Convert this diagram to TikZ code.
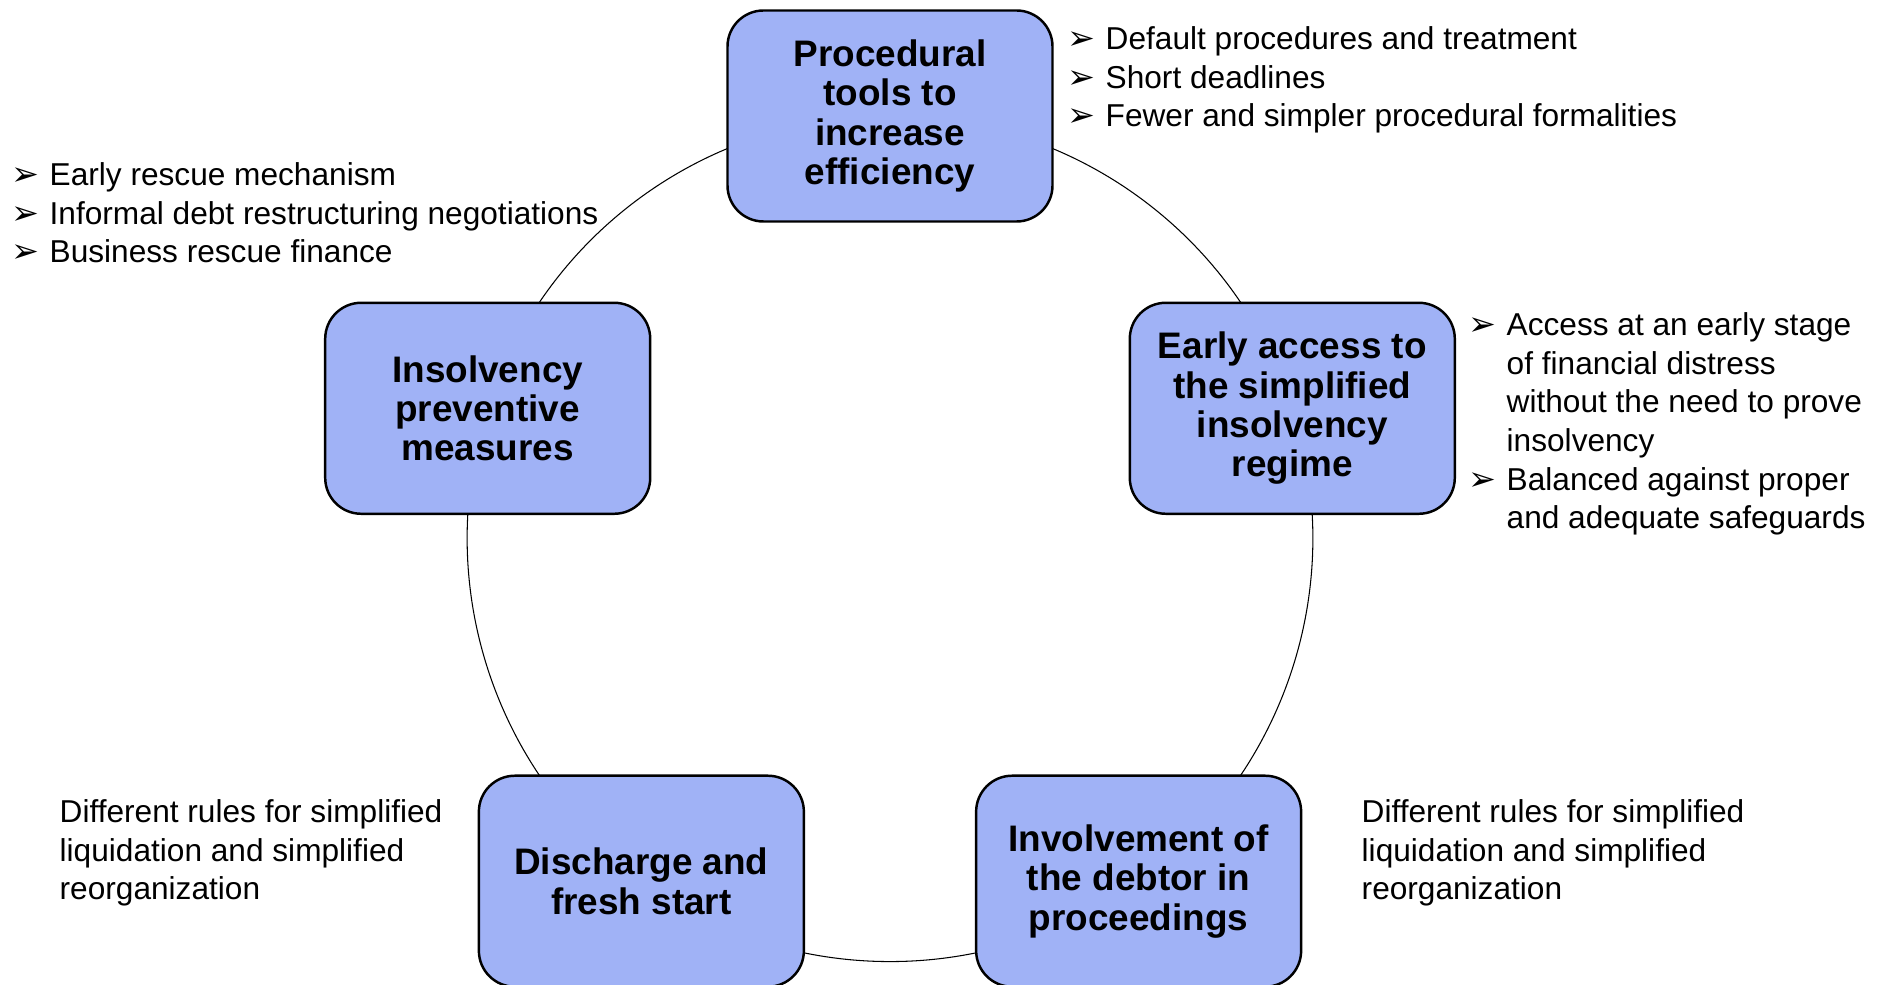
\documentclass[tikz,border=0pt]{standalone}
\usepackage{fontspec}
\setmainfont{Liberation Sans}
\newfontfamily\dingfont{DejaVu Sans}
\usetikzlibrary{backgrounds}

\definecolor{stagefill}{RGB}{160,178,246}
\newcommand{\bul}{\makebox[0.35cm][l]{\hspace*{-0.03cm}\dingfont\fontsize{9.5}{9.5}\selectfont ➢}}
\newcommand{\ind}{\hspace*{0.35cm}}

\tikzset{
  stage/.style={draw=black, line width=0.7pt, fill=stagefill,
    rounded corners=0.36cm, minimum width=3.25cm, minimum height=2.11cm,
    align=center, inner sep=0pt,
    font=\bfseries\fontsize{10.5}{11.2}\selectfont},
  note/.style={anchor=north west, align=left, inner sep=0pt,
    font=\fontsize{9}{11}\selectfont},
  ring/.style={draw=black, line width=0.3pt}
}

\begin{document}
\begin{tikzpicture}
  \useasboundingbox (0,0) rectangle (18.79,9.84);

  % the five stages round the ring
  \begin{scope}[shift={(8.90,4.45)}]
    \node[stage] (tools)     at (90:4.23)  {Procedural\\tools to\\increase\\efficiency};
    \node[stage] (access)    at (18:4.23)  {Early access to\\the simplified\\insolvency\\regime};
    \node[stage] (debtor)    at (-54:4.23) {Involvement of\\the debtor in\\proceedings};
    \node[stage] (discharge) at (234:4.23) {Discharge and\\fresh start};
    \node[stage] (prevent)   at (162:4.23) {Insolvency\\preventive\\measures};
  \end{scope}

  \begin{scope}[on background layer]
    \draw[ring, bend left=36, looseness=0.94]
      (tools.center) to (access.center) to (debtor.center)
      to (discharge.center) to (prevent.center) to (tools.center);
  \end{scope}

  % notes
  \node[note] (toolsnote) at (10.70,9.58)
    {\bul Default procedures and treatment\\
     \bul Short deadlines\\
     \bul Fewer and simpler procedural formalities};
  \node[note] (preventnote) at (0.14,8.22)
    {\bul Early rescue mechanism\\
     \bul Informal debt restructuring negotiations\\
     \bul Business rescue finance};
  \node[note] (accessnote) at (14.71,6.72)
    {\bul Access at an early stage\\
     \ind of financial distress\\
     \ind without the need to prove\\
     \ind insolvency\\
     \bul Balanced against proper\\
     \ind and adequate safeguards};
  \node[note] (dischargenote) at (0.59,1.85)
    {Different rules for simplified\\
     liquidation and simplified\\
     reorganization};
  \node[note] (debtornote) at (13.61,1.85)
    {Different rules for simplified\\
     liquidation and simplified\\
     reorganization};
\end{tikzpicture}
\end{document}
